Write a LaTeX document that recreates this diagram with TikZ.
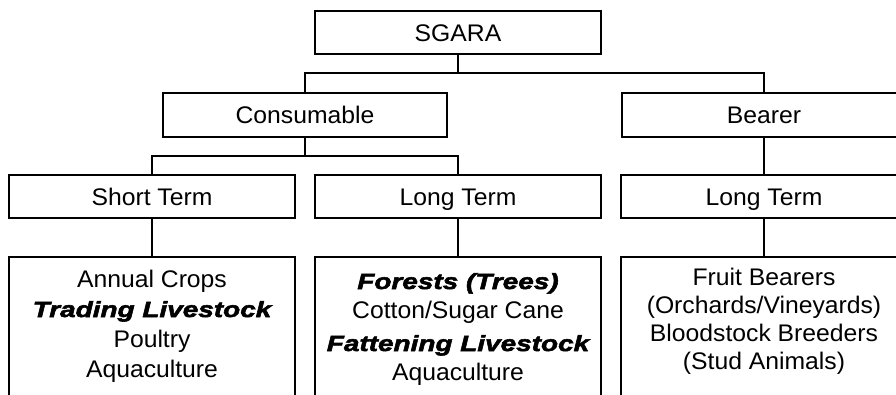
\documentclass[tikz,border=0pt]{standalone}
\usepackage{fontspec}
\setmainfont{Liberation Sans}[FakeStretch=1.03]
% heavy, wide oblique face for emphasised entries
\newfontfamily\blkfamily{Liberation Sans}[FakeStretch=1.27, BoldItalicFeatures={FakeBold=2.5}]
\newcommand{\heavy}[1]{{\blkfamily\bfseries\itshape\fontsize{22}{30}\selectfont #1}}
\begin{document}
\begin{tikzpicture}[x=1pt,y=-1pt,
  every node/.style={inner sep=0pt, outer sep=0pt},
  catbox/.style={draw, line width=1.4pt, rectangle, minimum width=286pt, minimum height=43pt,
    font=\fontsize{24}{30}\selectfont, text height=17.2pt, text depth=0pt},
  listbox/.style={draw, line width=1.4pt, rectangle, minimum width=286pt, minimum height=200pt, anchor=north},
  listtext/.style={anchor=base, font=\fontsize{24}{30}\selectfont},
  link/.style={line width=1.3pt}]
\useasboundingbox (0,0) rectangle (896,394);
\clip (0,0) rectangle (896,394);
\fill[white] (0,0) rectangle (896,394);

% tree of category boxes
\node[catbox] (sgara) at (458,32.5) {SGARA};
\node[catbox, minimum width=284pt, minimum height=44pt] (cons) at (305,115) {Consumable};
\node[catbox, minimum width=284pt, minimum height=44pt] (bear) at (764,115) {Bearer};
\node[catbox] (st)  at (152,196.5) {Short Term};
\node[catbox] (lt)  at (458,196.5) {Long Term};
\node[catbox] (blt) at (764,196.5) {Long Term};

% boxes listing the examples
\node[listbox] (stl)  at (152,257) {};
\node[listbox] (ltl)  at (458,257) {};
\node[listbox] (bltl) at (764,257) {};

\node[listtext] (stt) at (152,287) {\begin{tabular}[t]{@{}c@{}}
  Annual Crops\\ \heavy{Trading Livestock}\\ Poultry\\ Aquaculture\end{tabular}};
\node[listtext] (ltt) at (458,289) {\fontsize{24}{29}\selectfont\begin{tabular}[t]{@{}c@{}}
  \heavy{Forests (Trees)}\\ Cotton/Sugar Cane\\[4pt] \heavy{Fattening Livestock}\\ Aquaculture\end{tabular}};
\node[listtext] (bltt) at (764,285) {\fontsize{24}{28}\selectfont\begin{tabular}[t]{@{}c@{}}
  Fruit Bearers\\ (Orchards/Vineyards)\\ Bloodstock Breeders\\ (Stud Animals)\end{tabular}};

% connectors
\draw[link] (sgara.south) -- ++(0,19) -| (cons.north);
\draw[link] (sgara.south) -- ++(0,19) -| (bear.north);
\draw[link] (cons.south) -- ++(0,19) -| (st.north);
\draw[link] (cons.south) -- ++(0,19) -| (lt.north);
\draw[link] (bear.south) -- (blt.north);
\draw[link] (st.south) -- (stl.north);
\draw[link] (lt.south) -- (ltl.north);
\draw[link] (blt.south) -- (bltl.north);
\end{tikzpicture}
\end{document}
